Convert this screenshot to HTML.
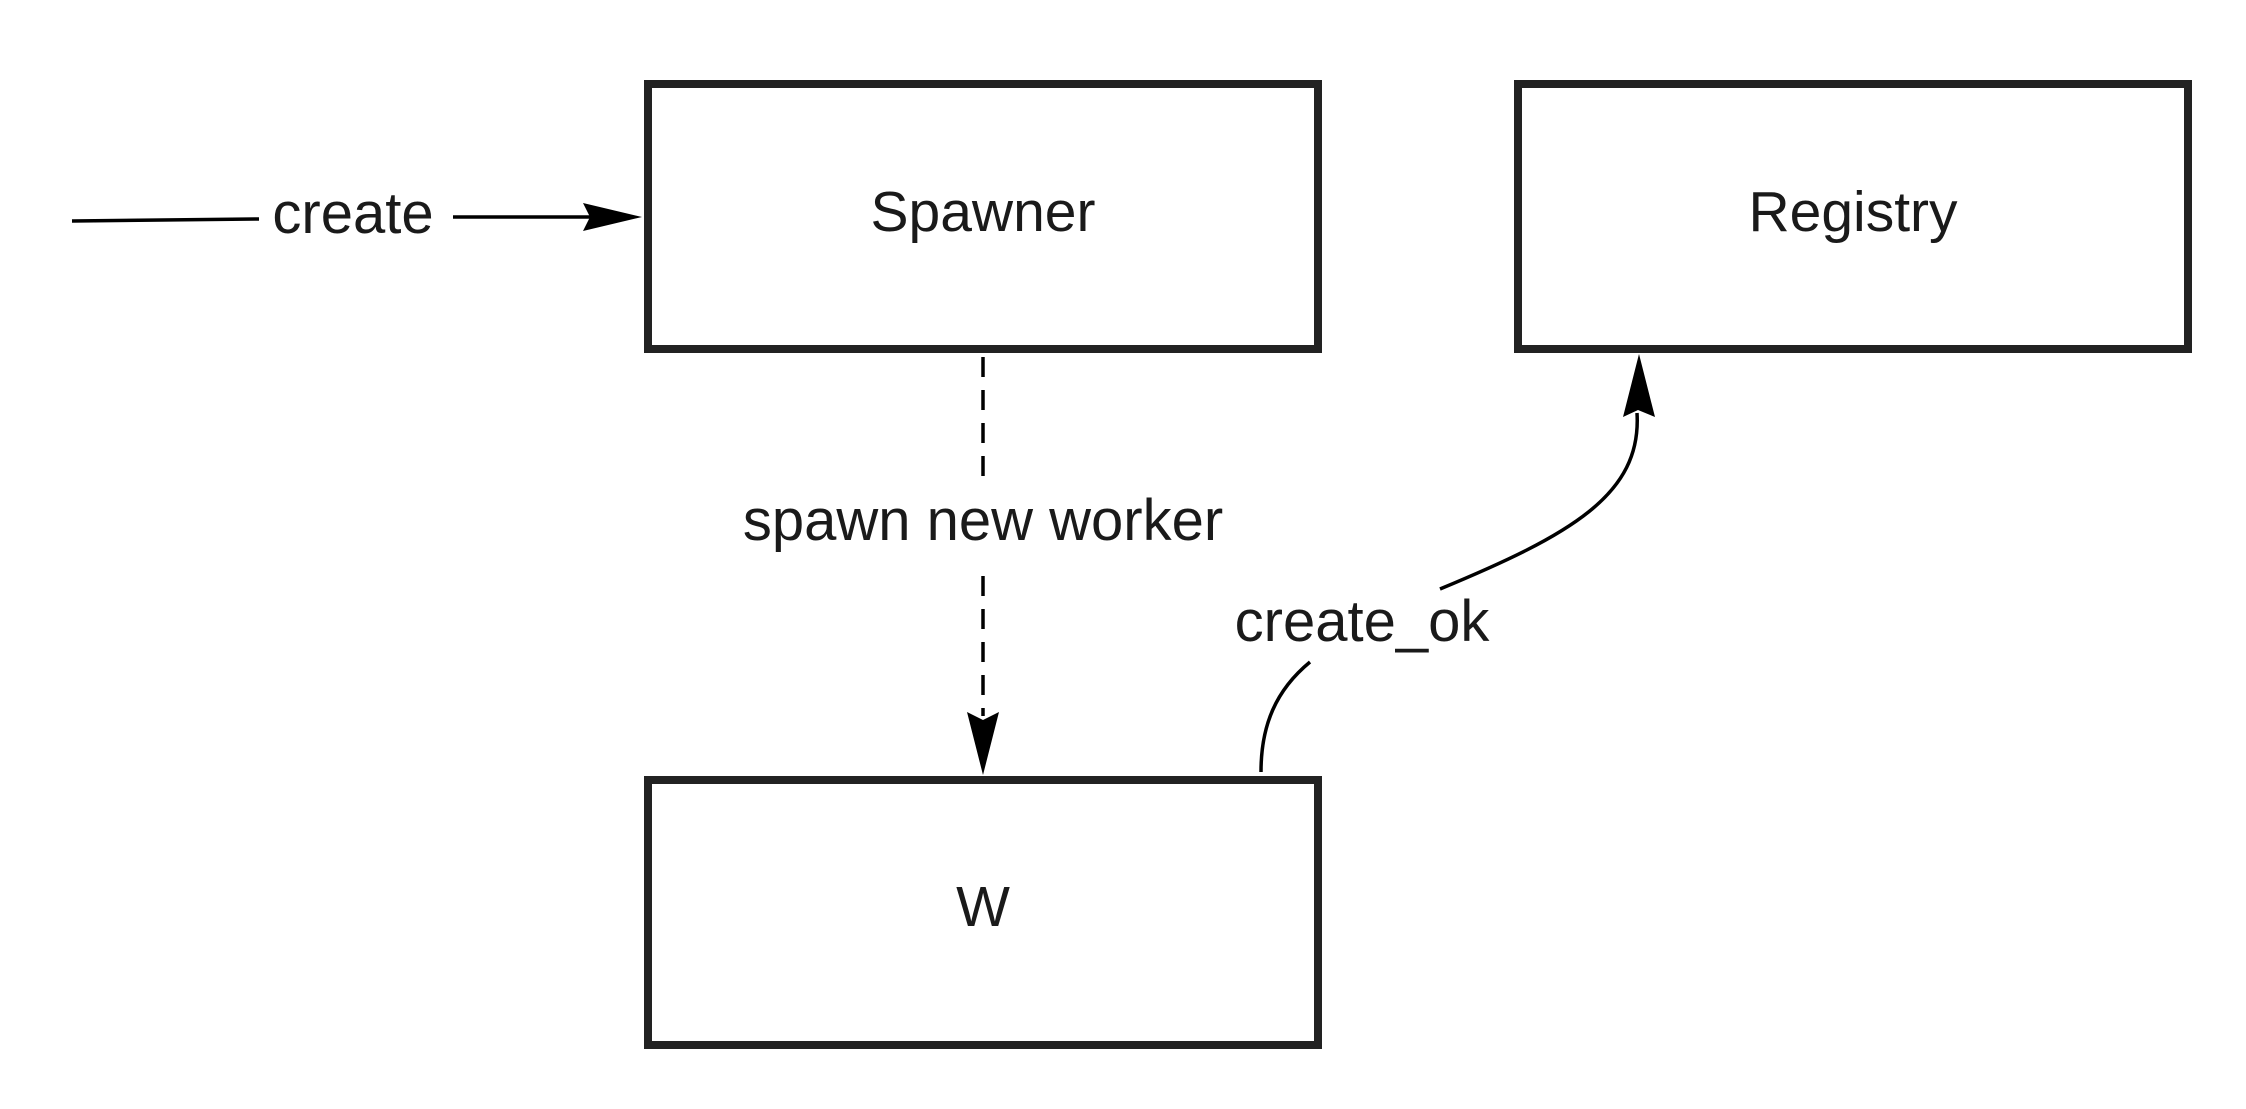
<!DOCTYPE html>
<html><head><meta charset="utf-8"><style>
html,body{margin:0;padding:0;background:#fff;}
svg{display:block;}
text{font-family:"Liberation Sans",sans-serif;fill:#1a1a1a;}
</style></head><body>
<svg width="2246" height="1109" viewBox="0 0 2246 1109" xmlns="http://www.w3.org/2000/svg">
<rect width="2246" height="1109" fill="#fff"/>
<g fill="#fff" stroke="#222" stroke-width="8">
<rect x="648" y="84" width="670" height="265"/>
<rect x="1518" y="84" width="670" height="265"/>
<rect x="648" y="780" width="670" height="265"/>
</g>
<g font-size="57" text-anchor="middle">
<text x="983" y="231">Spawner</text>
<text x="1853" y="231">Registry</text>
<text x="983" y="926">W</text>
</g>
<g font-size="58" text-anchor="middle">
<text x="353" y="233">create</text>
<text x="983" y="540">spawn new worker</text>
<text x="1362" y="641">create_ok</text>
</g>
<g stroke="#000" stroke-width="3.5" fill="none">
<path d="M72,221 L259,219"/>
<path d="M453,217 L590,217"/>
<path d="M983,357 L983,482" stroke-dasharray="20 13"/>
<path d="M983,576 L983,716" stroke-dasharray="20 13"/>
<path d="M1261,772 C1261,725 1276,690 1310,662"/>
<path d="M1440,589 C1570,535 1642,495 1637,413"/>
</g>
<g fill="#000">
<path d="M642,217 L583,203 L590,217 L583,231 Z"/>
<path d="M983,775 L967,712 L983,720 L999,712 Z"/>
<path d="M1639,354 L1623,417 L1638,410 L1655,417 Z"/>
</g>
</svg>
</body></html>
